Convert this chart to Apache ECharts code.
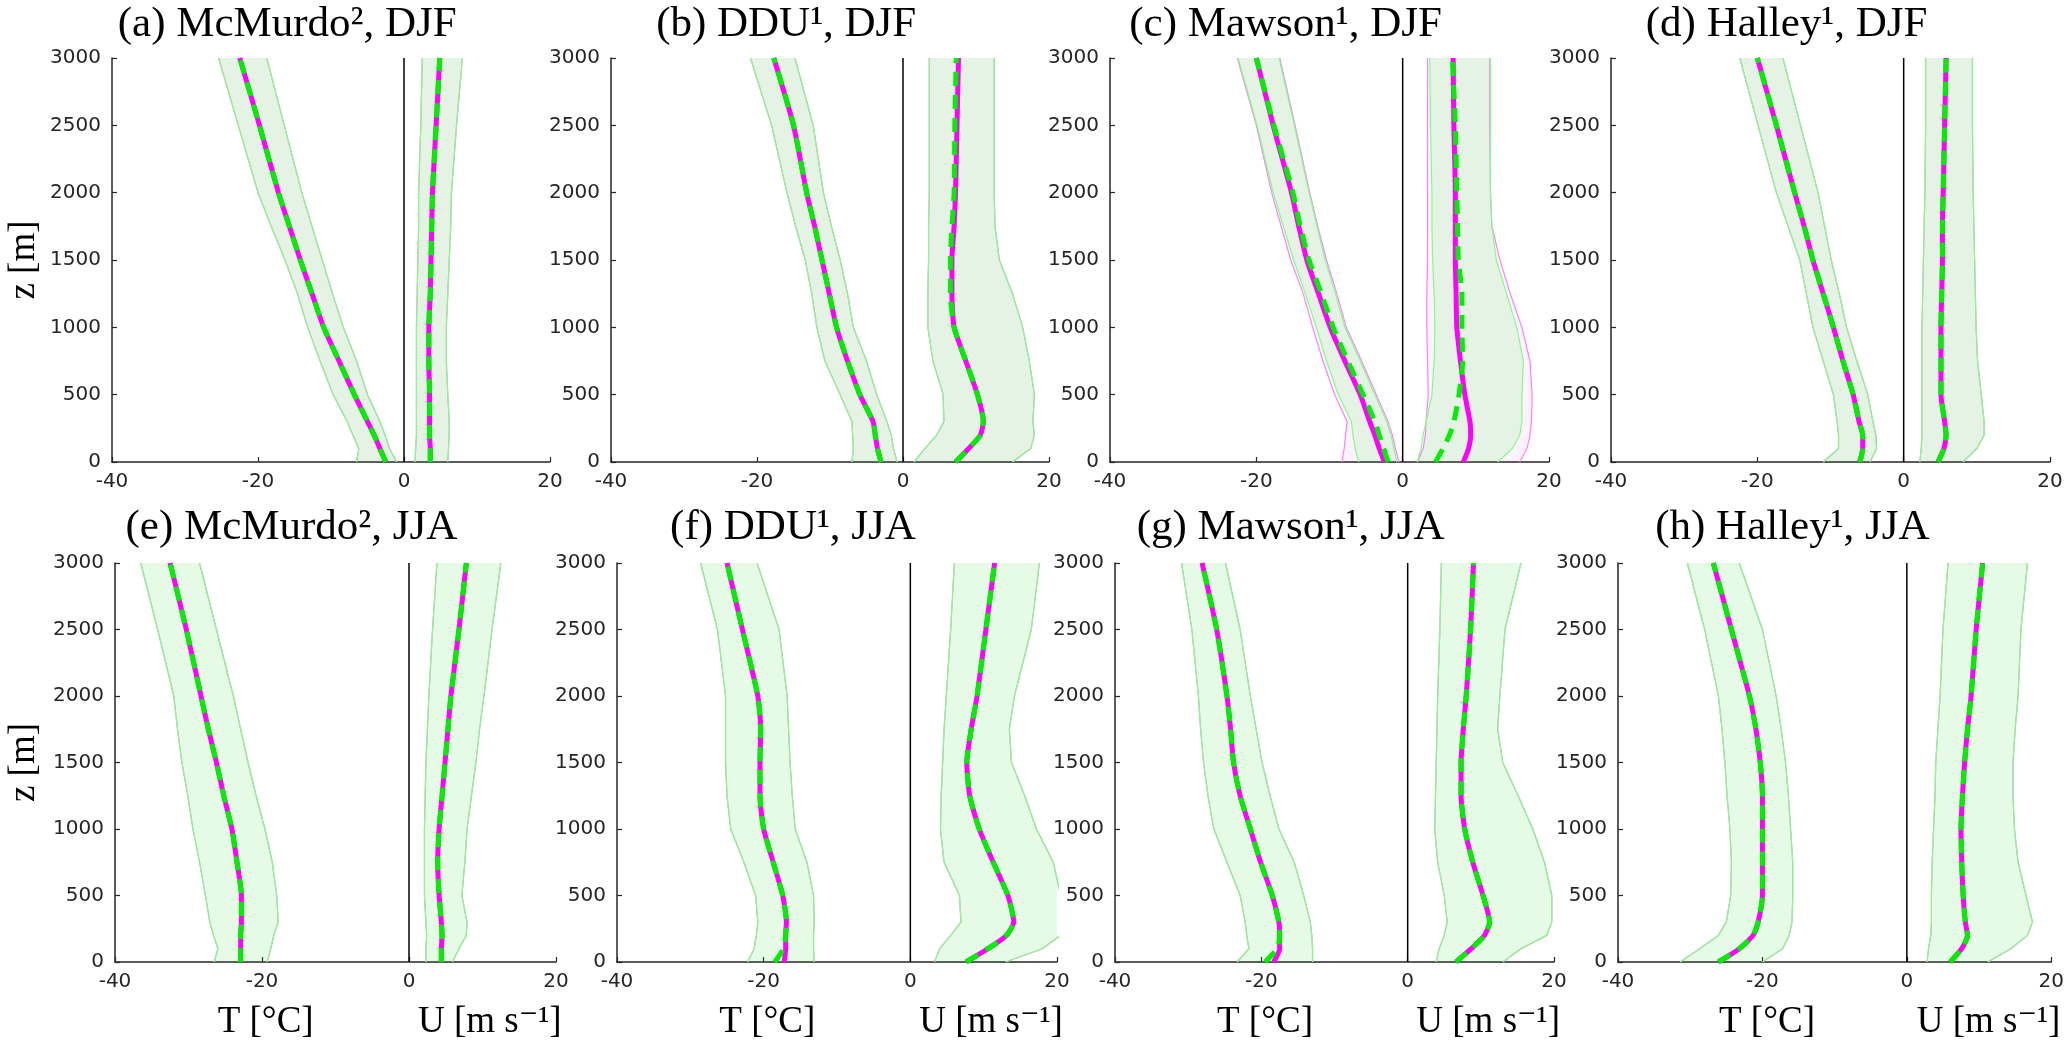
<!DOCTYPE html>
<html>
<head>
<meta charset="utf-8">
<script src="https://cdn.jsdelivr.net/npm/echarts@6/dist/echarts.min.js"></script>
<style>
html,body{margin:0;padding:0;background:#ffffff;}
#c{width:2067px;height:1042px;}
</style>
</head>
<body>
<div id="c"></div>
<script>
// ---------------- DATA ----------------
const Z = [0, 100, 200, 300, 500, 750, 1000, 1250, 1500, 1750, 2000, 2500, 3000];
const xTickValues = [-40, -20, 0, 20];
const yTickValues = [0, 500, 1000, 1500, 2000, 2500, 3000];
const titles = ['(a) McMurdo², DJF', '(b) DDU¹, DJF', '(c) Mawson¹, DJF', '(d) Halley¹, DJF',
                '(e) McMurdo², JJA', '(f) DDU¹, JJA', '(g) Mawson¹, JJA', '(h) Halley¹, JJA'];
const xNameT = 'T [°C]';
const xNameU = 'U [m s⁻¹]';
const yName = 'z [m]';

// (a) McMurdo DJF
const a_T   = [-2.5, -3.3, -4.1, -5.0, -6.8, -8.9, -11.0, -12.6, -14.2, -15.7, -17.2, -19.8, -22.5];
const a_Tlo = [-6.5, -6.2, -7.0, -7.8, -9.7, -11.5, -13.2, -14.6, -16.3, -18.2, -20.0, -22.7, -25.4];
const a_Thi = [-1.0, -2.0, -2.6, -3.3, -5.0, -6.5, -8.3, -9.8, -11.2, -12.6, -14.0, -16.4, -18.8];
const a_U   = [3.6, 3.6, 3.5, 3.5, 3.5, 3.4, 3.4, 3.6, 3.7, 3.8, 3.9, 4.4, 4.9];
const a_Ulo = [1.5, 1.6, 1.7, 1.7, 1.7, 1.7, 1.7, 1.8, 1.9, 2.0, 2.0, 2.3, 2.5];
const a_Uhi = [6.0, 6.1, 6.2, 6.2, 6.0, 5.8, 5.8, 6.0, 6.2, 6.4, 6.5, 7.2, 8.0];

// (b) DDU DJF
const b_T   = [-3.0, -3.5, -3.8, -4.1, -5.9, -7.6, -9.1, -10.1, -11.1, -12.1, -13.2, -15.0, -17.7];
const b_Tlo = [-7.0, -6.8, -6.9, -7.0, -8.6, -10.7, -11.8, -12.5, -13.4, -14.7, -15.9, -18.0, -20.9];
const b_Thi = [-0.8, -1.3, -1.6, -2.2, -3.6, -5.0, -6.8, -7.6, -8.6, -9.8, -10.9, -12.3, -14.8];
const b_U   = [7.2, 9.0, 10.6, 11.0, 10.2, 8.6, 7.0, 6.7, 6.7, 7.0, 7.2, 7.4, 7.6];
const b_Ug  = [7.2, 9.0, 10.6, 11.0, 10.2, 8.6, 7.0, 6.5, 6.5, 6.7, 7.0, 7.1, 7.3];
const b_Ulo = [1.5, 3.0, 4.6, 5.6, 5.5, 4.1, 3.4, 3.4, 3.5, 3.5, 3.6, 3.6, 3.6];
const b_Uhi = [15.0, 17.5, 18.0, 17.8, 18.0, 17.3, 16.4, 15.0, 13.2, 12.6, 12.5, 12.5, 12.5];

// (c) Mawson DJF
const c_T    = [-2.5, -3.2, -3.8, -4.5, -5.8, -7.9, -9.9, -11.5, -13.1, -14.2, -15.2, -17.7, -20.0];
const c_Tg   = [-2.0, -2.6, -3.2, -3.8, -5.4, -7.5, -9.5, -11.1, -12.8, -14.0, -15.0, -17.6, -20.0];
const c_Tlo  = [-8.3, -8.0, -7.8, -7.6, -9.3, -10.9, -12.3, -13.6, -15.3, -16.6, -17.9, -20.0, -22.6];
const c_Tlog = [-6.0, -6.5, -6.8, -7.0, -8.8, -10.4, -11.8, -13.3, -14.9, -16.3, -17.7, -19.9, -22.5];
const c_Thi  = [-0.5, -1.0, -1.4, -2.0, -3.6, -5.6, -7.7, -9.0, -10.4, -11.6, -12.7, -14.7, -16.8];
const c_Thig = [-0.8, -1.2, -1.6, -2.2, -3.8, -5.8, -7.9, -9.2, -10.6, -11.7, -12.8, -14.8, -16.9];
const c_U    = [8.3, 9.0, 9.3, 9.2, 8.5, 7.9, 7.4, 7.3, 7.2, 7.2, 7.2, 7.0, 6.9];
const c_Ug   = [4.5, 5.5, 6.4, 7.0, 7.7, 8.2, 8.1, 8.1, 7.6, 7.5, 7.4, 7.2, 6.8];
const c_Ulo  = [2.0, 2.8, 3.1, 3.2, 3.5, 3.4, 3.3, 3.3, 3.4, 3.4, 3.4, 3.4, 3.4];
const c_Ulog = [2.0, 2.5, 2.8, 3.2, 4.0, 4.3, 4.4, 4.3, 4.1, 4.0, 4.0, 3.8, 3.7];
const c_Uhi  = [16.0, 17.0, 17.4, 17.6, 17.7, 17.4, 16.3, 14.7, 13.3, 12.2, 12.0, 11.9, 11.9];
const c_Uhig = [13.0, 15.0, 16.0, 16.3, 16.3, 16.5, 15.6, 14.2, 12.8, 12.2, 12.0, 12.0, 12.0];

// (d) Halley DJF
const d_T   = [-6.0, -5.6, -5.6, -6.1, -6.9, -8.3, -9.6, -11.0, -12.4, -13.6, -14.9, -17.4, -20.0];
const d_Tlo = [-11.0, -8.9, -8.9, -9.1, -9.6, -11.0, -12.4, -13.3, -14.2, -15.8, -17.4, -19.9, -22.4];
const d_Thi = [-4.6, -3.7, -3.8, -4.2, -4.9, -6.4, -7.8, -8.8, -9.9, -10.8, -11.7, -14.1, -16.5];
const d_U   = [4.7, 5.5, 5.8, 5.6, 5.1, 5.1, 5.1, 5.2, 5.3, 5.3, 5.4, 5.6, 5.8];
const d_Ulo = [2.2, 2.4, 2.5, 2.5, 2.5, 2.5, 2.5, 2.6, 2.7, 2.8, 2.9, 3.0, 3.0];
const d_Uhi = [8.1, 10.0, 11.0, 11.0, 10.6, 10.1, 9.9, 9.8, 9.7, 9.6, 9.5, 9.4, 9.4];

// (e) McMurdo JJA
const e_T   = [-22.9, -22.9, -22.9, -22.8, -22.8, -23.4, -24.1, -25.2, -26.2, -27.3, -28.3, -30.3, -32.5];
const e_Tlo = [-26.5, -26.0, -26.6, -27.1, -27.7, -28.5, -29.4, -30.1, -30.9, -31.5, -32.0, -34.2, -36.5];
const e_Thi = [-19.3, -18.8, -18.4, -17.8, -18.0, -18.6, -19.6, -20.8, -21.9, -22.9, -23.9, -26.2, -28.5];
const e_U   = [4.4, 4.4, 4.5, 4.4, 4.1, 3.9, 4.1, 4.5, 4.9, 5.3, 5.7, 6.8, 7.8];
const e_Ulo = [2.3, 2.3, 2.4, 2.3, 2.1, 2.1, 2.1, 2.2, 2.3, 2.5, 2.7, 3.2, 3.8];
const e_Uhi = [5.9, 6.8, 7.8, 7.9, 7.2, 7.6, 7.9, 8.5, 9.1, 9.6, 10.2, 11.3, 12.5];

// (f) DDU JJA
const f_T   = [-17.2, -17.0, -17.0, -16.9, -17.4, -18.7, -20.0, -20.5, -20.5, -20.4, -20.8, -22.9, -25.0];
const f_Tg  = [-18.5, -17.3, -17.0, -16.9, -17.4, -18.7, -20.0, -20.5, -20.5, -20.4, -20.8, -22.9, -25.0];
const f_Tlo = [-22.2, -21.3, -21.0, -20.8, -21.1, -22.7, -24.5, -25.0, -25.2, -25.2, -25.2, -26.3, -28.6];
const f_Thi = [-13.1, -13.2, -13.2, -13.1, -13.2, -14.1, -15.7, -16.1, -16.4, -16.6, -16.8, -17.9, -20.9];
const f_U   = [7.6, 10.6, 13.1, 14.1, 13.3, 11.3, 9.4, 8.1, 7.7, 8.3, 9.1, 10.3, 11.5];
const f_Ulo = [3.3, 4.0, 5.5, 6.9, 6.7, 4.6, 4.1, 4.2, 4.4, 4.6, 4.9, 5.5, 6.0];
const f_Uhi = [13.0, 18.0, 20.5, 21.0, 20.5, 19.5, 17.2, 15.6, 13.8, 13.5, 14.2, 16.5, 17.6];

// (g) Mawson JJA
const g_T   = [-18.3, -17.5, -17.5, -17.6, -18.5, -20.1, -21.5, -22.9, -23.8, -24.2, -24.7, -26.1, -28.1];
const g_Tg  = [-19.5, -17.8, -17.5, -17.6, -18.5, -20.1, -21.5, -22.9, -23.8, -24.2, -24.7, -26.1, -28.1];
const g_Tlo = [-23.3, -21.7, -22.0, -22.2, -22.9, -24.7, -26.5, -27.3, -27.9, -28.3, -28.6, -29.5, -30.9];
const g_Thi = [-13.0, -13.0, -13.1, -13.3, -14.2, -15.5, -17.6, -18.8, -19.9, -20.7, -21.5, -22.9, -24.9];
const g_U   = [6.6, 8.7, 10.5, 11.2, 10.3, 8.9, 7.8, 7.3, 7.3, 7.6, 8.0, 8.6, 9.0];
const g_Ulo = [3.9, 4.3, 5.0, 5.4, 5.0, 4.1, 3.7, 3.8, 3.9, 4.0, 4.1, 4.4, 4.6];
const g_Uhi = [13.0, 15.5, 19.0, 19.7, 19.7, 18.7, 17.1, 15.1, 13.0, 12.3, 12.6, 13.3, 15.5];

// (h) Halley JJA
const h_T   = [-26.1, -23.2, -21.3, -20.6, -20.0, -20.0, -20.0, -20.0, -20.3, -20.9, -21.8, -24.3, -26.8];
const h_Tlo = [-31.4, -28.7, -26.1, -25.0, -24.4, -24.3, -24.5, -24.9, -25.2, -25.6, -26.1, -28.0, -30.4];
const h_Thi = [-20.0, -17.2, -16.3, -15.9, -15.8, -15.8, -16.1, -16.4, -16.8, -17.4, -18.1, -20.0, -23.2];
const h_U   = [6.0, 7.6, 8.4, 8.1, 7.8, 7.6, 7.5, 7.7, 8.0, 8.4, 8.9, 9.6, 10.5];
const h_Ulo = [2.8, 3.0, 3.3, 3.4, 3.4, 3.5, 3.7, 3.9, 4.0, 4.3, 4.6, 5.0, 5.7];
const h_Uhi = [11.2, 14.4, 16.7, 17.4, 16.5, 15.4, 14.9, 14.7, 14.7, 15.0, 15.4, 15.8, 16.7];

// ---------------- ASSEMBLY ----------------
const panels = [
  {m:[a_T,a_Tlo,a_Thi,a_U,a_Ulo,a_Uhi], g:[a_T,a_Tlo,a_Thi,a_U,a_Ulo,a_Uhi]},
  {m:[b_T,b_Tlo,b_Thi,b_U,b_Ulo,b_Uhi], g:[b_T,b_Tlo,b_Thi,b_Ug,b_Ulo,b_Uhi]},
  {m:[c_T,c_Tlo,c_Thi,c_U,c_Ulo,c_Uhi], g:[c_Tg,c_Tlog,c_Thig,c_Ug,c_Ulog,c_Uhig]},
  {m:[d_T,d_Tlo,d_Thi,d_U,d_Ulo,d_Uhi], g:[d_T,d_Tlo,d_Thi,d_U,d_Ulo,d_Uhi]},
  {m:[e_T,e_Tlo,e_Thi,e_U,e_Ulo,e_Uhi], g:[e_T,e_Tlo,e_Thi,e_U,e_Ulo,e_Uhi]},
  {m:[f_T,f_Tlo,f_Thi,f_U,f_Ulo,f_Uhi], g:[f_Tg,f_Tlo,f_Thi,f_U,f_Ulo,f_Uhi]},
  {m:[g_T,g_Tlo,g_Thi,g_U,g_Ulo,g_Uhi], g:[g_Tg,g_Tlo,g_Thi,g_U,g_Ulo,g_Uhi]},
  {m:[h_T,h_Tlo,h_Thi,h_U,h_Ulo,h_Uhi], g:[h_T,h_Tlo,h_Thi,h_U,h_Ulo,h_Uhi]}
];

// layout (pixels)
const GL = [112, 611, 1110, 1611, 115, 617, 1115, 1618];
const GT = [58, 58, 58, 58, 563, 563, 563, 563];
const GW = [438, 438, 439, 439, 441, 440, 439, 436];
const GH = [404, 404, 404, 404, 399, 399, 399, 399];

const AX = '#262626';
const MAG = '#ff00ff';
const GRN = '#00ee00';
const MAG_EDGE = '#ff80ff';
const GRN_EDGE = '#80ff80';
const SERIF = '"Liberation Serif", "DejaVu Serif", serif';

const grids = [], xAxes = [], yAxes = [], series = [], graphics = [];

function pairs(xs) { return xs.map((x, k) => [x, Z[k]]); }

function band(i, lo, hi, fill, zl) {
  return {
    type: 'custom', xAxisIndex: i, yAxisIndex: i, z: zl, silent: true,
    data: lo.map((x, k) => [x, hi[k], Z[k]]),
    encode: {x: [0, 1], y: 2},
    renderItem: function (params, api) {
      if (params.dataIndex !== 0) return null;
      const pts = [];
      for (let k = 0; k < lo.length; k++) pts.push(api.coord([lo[k], Z[k]]));
      for (let k = hi.length - 1; k >= 0; k--) pts.push(api.coord([hi[k], Z[k]]));
      const cs = params.coordSys;
      return {
        type: 'polygon',
        shape: {points: pts},
        style: {fill: fill, stroke: null},
        clipPath: {type: 'rect', shape: {x: cs.x, y: cs.y, width: cs.width, height: cs.height}}
      };
    }
  };
}

function edge(i, xs, color, zl) {
  return {type: 'line', xAxisIndex: i, yAxisIndex: i, z: zl, silent: true, symbol: 'none',
          data: pairs(xs), lineStyle: {color: color, width: 1.2}, animation: false};
}

for (let i = 0; i < 8; i++) {
  grids.push({left: GL[i], top: GT[i], width: GW[i], height: GH[i], containLabel: false});
  xAxes.push({
    gridIndex: i, type: 'value', min: xTickValues[0], max: xTickValues[xTickValues.length - 1],
    interval: xTickValues[1] - xTickValues[0],
    axisLine: {show: true, onZero: false, lineStyle: {color: AX, width: 1.5}},
    axisTick: {show: true, inside: true, length: 5, lineStyle: {color: AX, width: 1.2}},
    axisLabel: {fontFamily: 'DejaVu Sans', fontSize: 20, color: AX, margin: 10,
                formatter: v => String(v)},
    splitLine: {show: false}
  });
  yAxes.push({
    gridIndex: i, type: 'value', min: yTickValues[0], max: yTickValues[yTickValues.length - 1],
    interval: yTickValues[1] - yTickValues[0],
    axisLine: {show: true, onZero: false, lineStyle: {color: AX, width: 1.5}},
    axisTick: {show: true, inside: true, length: 5, lineStyle: {color: AX, width: 1.2}},
    axisLabel: {fontFamily: 'DejaVu Sans', fontSize: 20, color: AX, margin: 11,
                formatter: v => String(v)},
    splitLine: {show: false}
  });

  const p = panels[i];
  const magFill = i < 4 ? 'rgba(255,0,255,0.05)' : 'rgba(255,0,255,0.015)';
  const grnFill = 'rgba(0,255,0,0.1)';
  // envelopes
  series.push(band(i, p.m[1], p.m[2], magFill, 1));
  series.push(band(i, p.m[4], p.m[5], magFill, 1));
  series.push(band(i, p.g[1], p.g[2], grnFill, 2));
  series.push(band(i, p.g[4], p.g[5], grnFill, 2));
  // envelope edges
  [p.m[1], p.m[2], p.m[4], p.m[5]].forEach(a => series.push(edge(i, a, MAG_EDGE, 3)));
  [p.g[1], p.g[2], p.g[4], p.g[5]].forEach(a => series.push(edge(i, a, GRN_EDGE, 4)));
  // zero line
  series.push({type: 'line', xAxisIndex: i, yAxisIndex: i, z: 5, silent: true, symbol: 'none',
               data: [[0, yTickValues[0]], [0, yTickValues[yTickValues.length - 1]]],
               lineStyle: {color: '#000000', width: 1.5}, animation: false});
  // means
  [p.m[0], p.m[3]].forEach(a => series.push({
    type: 'line', xAxisIndex: i, yAxisIndex: i, z: 6, silent: true, symbol: 'none', smooth: 0.2,
    data: pairs(a), lineStyle: {color: MAG, width: 5}, animation: false}));
  [p.g[0], p.g[3]].forEach(a => series.push({
    type: 'line', xAxisIndex: i, yAxisIndex: i, z: 7, silent: true, symbol: 'none', smooth: 0.2,
    data: pairs(a), lineStyle: {color: GRN, width: 5, type: [14, 9]}, animation: false}));

  // title
  graphics.push({type: 'text', x: GL[i] + 0.4 * GW[i], y: i < 4 ? 25 : 528, z: 100,
    style: {text: titles[i], font: '43px ' + SERIF, fill: '#000', align: 'center', verticalAlign: 'middle',
            textAlign: 'center', textVerticalAlign: 'middle'}});
  // x-axis names (bottom row)
  if (i >= 4) {
    const px = v => GL[i] + (v - xTickValues[0]) / (xTickValues[3] - xTickValues[0]) * GW[i];
    graphics.push({type: 'text', x: px(-19.5), y: 1022, z: 100,
      style: {text: xNameT, font: '37px ' + SERIF, fill: '#000', align: 'center', verticalAlign: 'middle',
              textAlign: 'center', textVerticalAlign: 'middle'}});
    graphics.push({type: 'text', x: px(11), y: 1022, z: 100,
      style: {text: xNameU, font: '37px ' + SERIF, fill: '#000', align: 'center', verticalAlign: 'middle',
              textAlign: 'center', textVerticalAlign: 'middle'}});
  }
  // y-axis name (left column)
  if (i === 0 || i === 4) {
    graphics.push({type: 'text', x: 24, y: GT[i] + GH[i] / 2, rotation: Math.PI / 2, z: 100,
      style: {text: yName, font: '37px ' + SERIF, fill: '#000', align: 'center', verticalAlign: 'middle',
              textAlign: 'center', textVerticalAlign: 'middle'}});
  }
}

const chart = echarts.init(document.getElementById('c'), null, {renderer: 'canvas', width: 2067, height: 1042});
chart.setOption({
  animation: false,
  backgroundColor: '#ffffff',
  grid: grids,
  xAxis: xAxes,
  yAxis: yAxes,
  series: series,
  graphic: graphics
});
</script>
</body>
</html>
